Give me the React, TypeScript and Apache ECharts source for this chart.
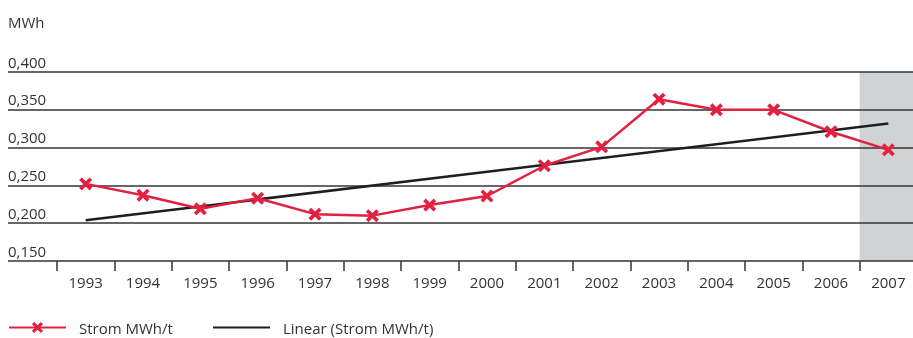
import React, { useEffect, useRef } from "react";
import * as echarts from "echarts";

const years = ["1993","1994","1995","1996","1997","1998","1999","2000","2001","2002","2003","2004","2005","2006","2007"];
const strom = [0.252,0.237,0.219,0.233,0.212,0.210,0.224,0.236,0.276,0.301,0.364,0.350,0.350,0.321,0.297];
const linear = [0.204,null,null,null,null,null,null,null,null,null,null,null,null,null,0.332];
const highlight = [null,null,null,null,null,null,null,null,null,null,null,null,null,null,0.4];
const yMin = 0.15;
const yMax = 0.4;
const yStep = 0.05;

const FONT = "'Open Sans', Lato, sans-serif";
const RED = "#e2203f";
const DARK = "#1e1e1e";
const TXT = "#333";
const XPATH = "path://M2,0 L5,3 L8,0 L10,2 L7,5 L10,8 L8,10 L5,7 L2,10 L0,8 L3,5 L0,2 Z";

export default function App() {
  const ref = useRef<HTMLDivElement>(null);
  useEffect(() => {
    const chart = echarts.init(ref.current!, null, { renderer: "svg" });
    const legendBase = {
      top: 320,
      padding: 0,
      itemWidth: 57,
      itemHeight: 14,
      textStyle: { fontFamily: FONT, fontSize: 15, color: TXT, padding: [0, 0, 0, 8] },
    };
    chart.setOption({
      animation: false,
      title: {
        text: "MWh",
        left: 8,
        top: 14,
        padding: 0,
        textStyle: { fontFamily: FONT, fontSize: 15, fontWeight: "normal", color: TXT },
      },
      legend: [
        { ...legendBase, data: [{ name: "Strom MWh/t" }], left: 8 },
        { ...legendBase, data: [{ name: "Linear (Strom MWh/t)" }], left: 212, itemStyle: { opacity: 0 } },
      ],
      grid: [
        { left: 8, right: 4, top: 72, bottom: 77 },
        { left: 57, right: 0, top: 72, bottom: 77 },
      ],
      xAxis: [
        { gridIndex: 0, type: "value", show: false },
        {
          gridIndex: 1,
          type: "category",
          data: years,
          boundaryGap: true,
          axisLine: { show: false },
          axisTick: { show: true, length: 10, interval: 0, lineStyle: { color: TXT, width: 1.5 } },
          axisLabel: { margin: 13, fontFamily: FONT, fontSize: 15, color: TXT, interval: 0 },
        },
      ],
      yAxis: [
        {
          gridIndex: 0,
          type: "value",
          min: yMin,
          max: yMax,
          interval: yStep,
          z: 1,
          axisLine: { show: false },
          axisTick: { show: false },
          splitLine: { show: true, lineStyle: { color: TXT, width: 1.5 } },
          axisLabel: {
            inside: true,
            margin: 0,
            verticalAlign: "bottom",
            padding: [0, 0, 3, 0],
            fontFamily: FONT,
            fontSize: 15,
            color: TXT,
            formatter: (v: number) => v.toFixed(3).replace(".", ","),
          },
        },
        { gridIndex: 1, type: "value", min: yMin, max: yMax, show: false },
      ],
      series: [
        {
          type: "bar",
          name: "band",
          xAxisIndex: 1,
          yAxisIndex: 1,
          data: highlight,
          barWidth: "100%",
          itemStyle: { color: "#d1d2d4" },
          silent: true,
          z: 0,
        },
        {
          type: "line",
          name: "Strom MWh/t",
          xAxisIndex: 1,
          yAxisIndex: 1,
          data: strom,
          symbol: XPATH,
          symbolSize: 13,
          itemStyle: { color: RED },
          lineStyle: { color: RED, width: 2.5 },
          z: 4,
        },
        {
          type: "line",
          name: "Linear (Strom MWh/t)",
          xAxisIndex: 1,
          yAxisIndex: 1,
          data: linear,
          connectNulls: true,
          symbol: "none",
          itemStyle: { color: DARK },
          lineStyle: { color: DARK, width: 2.5 },
          z: 3,
        },
      ],
    });
    return () => chart.dispose();
  }, []);
  return (
    <div style={{ position: "fixed", left: 0, top: 0, width: 913, height: 338, overflow: "hidden" }}>
      <div ref={ref} style={{ width: 917, height: 338 }} />
    </div>
  );
}
